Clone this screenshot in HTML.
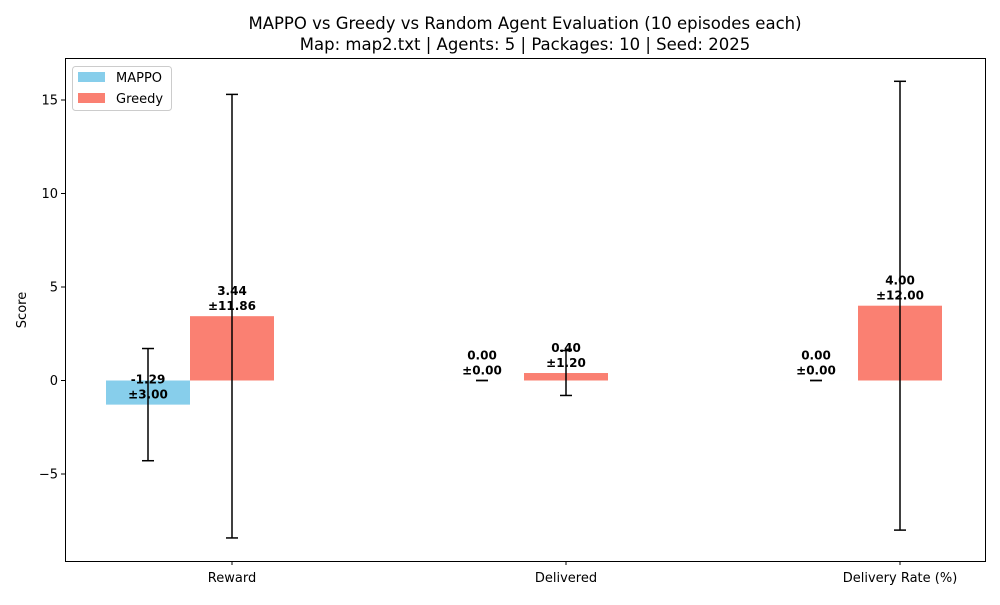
<!DOCTYPE html>
<html><head><meta charset="utf-8"><style>
body{margin:0;background:#fff;}
text{font-family:"DejaVu Sans","Liberation Sans",sans-serif;}
</style></head><body>
<svg id="chart" width="1000" height="600" xmlns="http://www.w3.org/2000/svg">
<rect width="1000" height="600" fill="#fff"/>
<text x="525" y="29" font-size="16.5" text-anchor="middle">MAPPO vs Greedy vs Random Agent Evaluation (10 episodes each)</text>
<text x="525" y="50" font-size="16.5" text-anchor="middle">Map: map2.txt | Agents: 5 | Packages: 10 | Seed: 2025</text>
<g id="plot"></g>
<rect x="65.5" y="58.5" width="920" height="503" fill="none" stroke="#000" stroke-width="1"/>
<text transform="translate(26,310) rotate(-90)" font-size="13" text-anchor="middle">Score</text>
<g>
<rect x="72.5" y="66.5" width="99" height="44" rx="3" fill="#fff" stroke="#ccc"/>
<rect x="78" y="72" width="27" height="10" fill="#87CEEB"/>
<text x="116" y="82" font-size="13">MAPPO</text>
<rect x="78" y="93" width="27" height="10" fill="#FA8072"/>
<text x="116" y="103" font-size="13">Greedy</text>
</g>
</svg>
<script>
const categories = ["Reward", "Delivered", "Delivery Rate (%)"];
const mappoMeans = [-1.29, 0.00, 0.00];
const mappoStds = [3.00, 0.00, 0.00];
const greedyMeans = [3.44, 0.40, 4.00];
const greedyStds = [11.86, 1.20, 12.00];
const yTicks = [-5, 0, 5, 10, 15];

const NS = "http://www.w3.org/2000/svg";
const g = document.getElementById("plot");
function y(v){ return 380.5 - v * 18.7; }
function xCenter(i){ return 232 + i * 334; }
const barW = 84;
function mk(tag, attrs){ const e = document.createElementNS(NS, tag); for (const k in attrs) e.setAttribute(k, attrs[k]); g.appendChild(e); return e; }

yTicks.forEach(t => {
  const tk = mk("line", {x1:61, x2:65, y1:y(t), y2:y(t), stroke:"#000"});
  
  
  const lb = mk("text", {x:58, y:y(t)+4.5, "font-size":13, "text-anchor":"end"});
  lb.textContent = t < 0 ? "\u2212" + Math.abs(t) : String(t);
  
  
});

categories.forEach((c, i) => {
  const xc = xCenter(i);
  const tk = mk("line", {x1:xc, x2:xc, y1:561, y2:565, stroke:"#000"});
  
  
  const lb = mk("text", {x:xc, y:582, "font-size":13, "text-anchor":"middle"});
  lb.textContent = c;
  
  
});

function series(means, stds, offset, color, name){
  means.forEach((m, i) => {
    const xc = xCenter(i) + offset;
    const top = Math.min(y(m), y(0)), h = Math.abs(y(m) - y(0));
    const b = mk("rect", {x:xc - barW/2, y:top, width:barW, height:Math.max(h, 0.01), fill:color});
    
    
    const s = stds[i];
    const e1 = mk("line", {x1:xc, x2:xc, y1:y(m+s), y2:y(m-s), stroke:"#000", "stroke-width":1.5});
    
    
    [m+s, m-s].forEach(v => {
      const cp = mk("line", {x1:xc-6, x2:xc+6, y1:y(v), y2:y(v), stroke:"#000", "stroke-width":1.5});
      
      
    });
    const base = y(m) - 6;
    const t1 = mk("text", {x:xc, y:base - 15, "font-size":12, "font-weight":"bold", "text-anchor":"middle"});
    t1.textContent = m.toFixed(2);
    
    
    const t2 = mk("text", {x:xc, y:base, "font-size":12, "font-weight":"bold", "text-anchor":"middle"});
    t2.textContent = "\u00b1" + s.toFixed(2);
    
    
  });
}
series(mappoMeans, mappoStds, -84, "#87CEEB", "mappo");
series(greedyMeans, greedyStds, 0, "#FA8072", "greedy");
</script>
</body></html>
